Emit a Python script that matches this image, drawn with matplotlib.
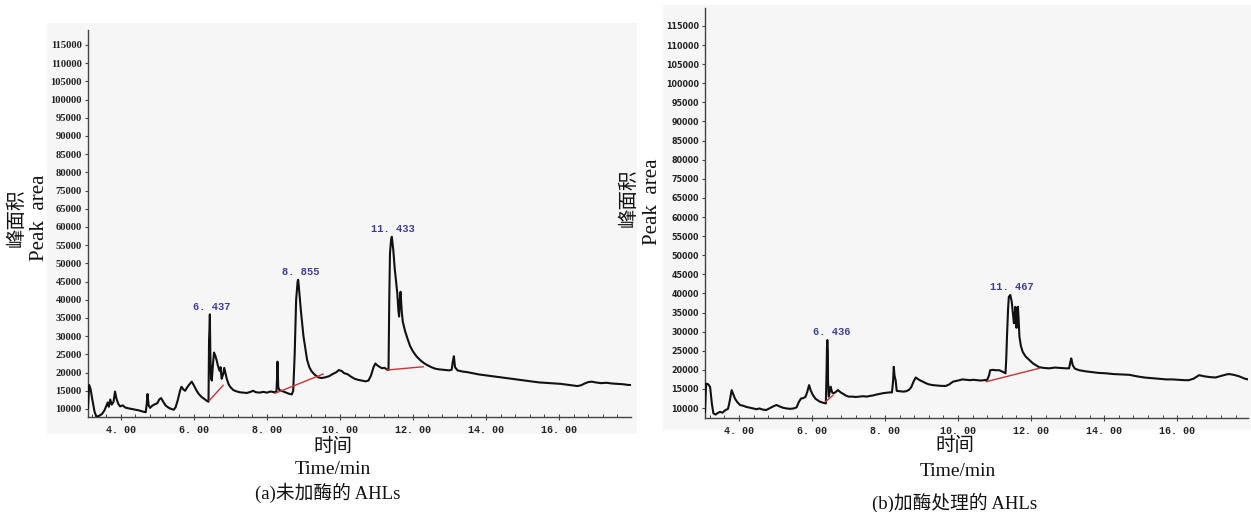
import matplotlib
matplotlib.use("Agg")
import matplotlib.pyplot as plt
from matplotlib.patches import Rectangle

# ---------------- data ----------------
# y tick labels as printed (the original skips 70000)
ytick_labels = ["10000", "15000", "20000", "25000", "30000", "35000", "40000",
                "45000", "50000", "55000", "60000", "65000", "75000", "80000",
                "85000", "90000", "95000", "100000", "105000", "110000", "115000"]
ytick_values = [10000 + 5000 * i for i in range(len(ytick_labels))]
xtick_values = [4, 6, 8, 10, 12, 14, 16]
xtick_labels = ["4. 00", "6. 00", "8. 00", "10. 00", "12. 00", "14. 00", "16. 00"]

# Panel (a): untreated AHLs
time_a = [3.10, 3.13, 3.17, 3.22, 3.28, 3.33, 3.40, 3.48, 3.55, 3.60, 3.64, 3.67, 3.71, 3.75,
          3.80, 3.84, 3.88, 3.93, 3.98, 4.05, 4.12, 4.20, 4.30, 4.40, 4.50, 4.60, 4.68, 4.71,
          4.73, 4.76, 4.80, 4.86, 4.93, 5.00, 5.05, 5.10, 5.16, 5.22, 5.30, 5.38, 5.45, 5.50,
          5.56, 5.62, 5.66, 5.71, 5.76, 5.82, 5.88, 5.94, 6.00, 6.06, 6.12, 6.20, 6.28, 6.36,
          6.40, 6.415, 6.43, 6.437, 6.45, 6.47, 6.49, 6.52, 6.55, 6.58, 6.62, 6.66, 6.70, 6.73,
          6.76, 6.80, 6.83, 6.86, 6.90, 6.95, 7.00, 7.08, 7.15, 7.25, 7.35, 7.45, 7.55, 7.62,
          7.70, 7.80, 7.90, 8.00, 8.10, 8.20, 8.26, 8.28, 8.29, 8.31, 8.34, 8.40, 8.50, 8.60,
          8.68, 8.72, 8.76, 8.80, 8.84, 8.855, 8.87, 8.90, 8.93, 8.96, 9.00, 9.05, 9.10, 9.16,
          9.22, 9.30, 9.40, 9.50, 9.60, 9.70, 9.80, 9.90, 9.97, 10.05, 10.12, 10.20, 10.30,
          10.40, 10.50, 10.60, 10.70, 10.78, 10.85, 10.92, 10.97, 11.02, 11.08, 11.15, 11.22,
          11.28, 11.33, 11.35, 11.37, 11.40, 11.42, 11.44, 11.46, 11.50, 11.54, 11.57, 11.60,
          11.62, 11.64, 11.66, 11.69, 11.72, 11.78, 11.85, 11.92, 12.00, 12.10, 12.20, 12.30,
          12.40, 12.50, 12.60, 12.70, 12.80, 12.90, 13.00, 13.06, 13.09, 13.12, 13.15, 13.22,
          13.35, 13.50, 13.65, 13.80, 13.95, 14.10, 14.25, 14.40, 14.55, 14.70, 14.85, 15.00,
          15.15, 15.30, 15.45, 15.60, 15.75, 15.90, 16.05, 16.20, 16.35, 16.50, 16.60, 16.70,
          16.80, 16.90, 17.00, 17.15, 17.30, 17.45, 17.60, 17.75, 17.90, 17.97]
area_a = [10200, 16600, 15500, 12500, 9200, 7900, 8100, 8600, 9600, 10800, 11800, 10600, 12600, 11200,
          12000, 14800, 12800, 11400, 10700, 11000, 10400, 10200, 10000, 9800, 9600, 9300, 9100, 11500,
          14100, 11000, 10300, 10900, 11300, 11600, 12600, 13000, 12000, 11000, 10400, 10000, 9800, 10500,
          12500, 15000, 16100, 15400, 15000, 16000, 16800, 17500, 16500, 15300, 14300, 13400, 12800, 12200,
          12000, 29000, 33000, 36000, 25000, 18500, 17800, 22000, 25500, 24800, 23500, 21800, 20500, 21500,
          18300, 19500, 21300, 20000, 18300, 16800, 16000, 15200, 14900, 14600, 14500, 14400, 14700, 15000,
          14600, 14500, 14700, 14500, 14800, 14600, 14800, 19000, 23000, 16000, 15200, 15000, 14600, 14200,
          14000, 15000, 25000, 40000, 45000, 45500, 44000, 40500, 37000, 34000, 30000, 26800, 23500, 21500,
          20400, 19500, 18700, 18500, 18700, 19000, 19600, 20100, 20700, 20400, 19800, 19600, 18900,
          18300, 18000, 17800, 17600, 17800, 19200, 21500, 22500, 22000, 21600, 21200, 21300,
          20900, 20700, 40000, 52800, 56500, 57300, 55500, 53700, 48500, 44500, 41800, 37000,
          35400, 40000, 42200, 37000, 34000, 31500, 29300, 27300, 25800, 24400, 23400, 22600,
          22000, 21500, 21100, 20900, 20800, 20700, 20600, 20800, 23000, 24500, 21500, 20600,
          20300, 20100, 19800, 19500, 19300, 19100, 18900, 18700, 18500, 18300, 18100, 17900,
          17700, 17500, 17300, 17200, 17100, 17000, 16900, 16700, 16500, 16300, 16500, 17000,
          17400, 17500, 17300, 17100, 17200, 17000, 16900, 16800, 16600, 16600]
baseline_a = [((6.42, 12300), (6.80, 16500)),
              ((8.22, 14300), (9.54, 19600)),
              ((11.28, 20700), (12.28, 21600))]
peaks_a = [(6.437, 36000, "6. 437"), (8.855, 45500, "8. 855"), (11.433, 57300, "11. 433")]

# Panel (b): enzyme-treated AHLs
time_b = [3.07, 3.10, 3.16, 3.21, 3.26, 3.30, 3.36, 3.42, 3.48, 3.55, 3.62, 3.70, 3.74, 3.80,
          3.85, 3.89, 3.95, 4.03, 4.12, 4.20, 4.30, 4.39, 4.48, 4.56, 4.65, 4.75, 4.85, 4.95,
          5.03, 5.12, 5.20, 5.30, 5.40, 5.50, 5.58, 5.64, 5.70, 5.76, 5.82, 5.87, 5.92, 5.97,
          6.03, 6.10, 6.21, 6.30, 6.38, 6.40, 6.41, 6.42, 6.435, 6.44, 6.46, 6.49, 6.51, 6.54,
          6.56, 6.60, 6.65, 6.71, 6.76, 6.80, 6.86, 6.92, 7.00, 7.10, 7.20, 7.30, 7.40, 7.50,
          7.60, 7.67, 7.75, 7.85, 7.95, 8.03, 8.12, 8.19, 8.22, 8.24, 8.26, 8.29, 8.32, 8.40,
          8.50, 8.58, 8.66, 8.72, 8.78, 8.84, 8.90, 8.97, 9.04, 9.12, 9.20, 9.31, 9.42, 9.55,
          9.67, 9.76, 9.86, 9.95, 10.05, 10.13, 10.22, 10.32, 10.42, 10.52, 10.62, 10.72, 10.80,
          10.85, 10.88, 10.95, 11.04, 11.13, 11.22, 11.30, 11.32, 11.34, 11.37, 11.39, 11.43,
          11.47, 11.50, 11.53, 11.55, 11.57, 11.60, 11.62, 11.64, 11.66, 11.68, 11.72, 11.77,
          11.85, 11.95, 12.05, 12.15, 12.22, 12.35, 12.50, 12.65, 12.80, 12.95, 13.04, 13.07,
          13.10, 13.14, 13.20, 13.32, 13.50, 13.68, 13.85, 14.05, 14.25, 14.45, 14.69, 14.90,
          15.10, 15.33, 15.55, 15.70, 15.87, 16.05, 16.20, 16.32, 16.45, 16.60, 16.75, 16.90,
          17.05, 17.20, 17.35, 17.42, 17.55, 17.70, 17.85, 17.94]
area_b = [9000, 16400, 16200, 15500, 11000, 8600, 8300, 8700, 9000, 8800, 9400, 9800, 11500, 14700,
          13500, 12500, 11600, 10800, 10600, 10300, 10100, 9900, 9700, 9900, 9600, 9500, 10000, 10500,
          10800, 10400, 10100, 9900, 9800, 9900, 10200, 11600, 12500, 12600, 12900, 14200, 16000, 14500,
          13300, 12400, 11700, 11400, 11200, 20000, 26000, 27800, 25000, 17000, 13000, 14500, 15600, 14500,
          14000, 13900, 14200, 14700, 14300, 14000, 13700, 13300, 13000, 13000, 12900, 13000, 13100, 13000,
          13200, 13300, 13500, 13700, 13900, 14000, 14100, 14100, 17000, 20800, 18500, 17300, 14500, 14400,
          14300, 14400, 14800, 15500, 16900, 18000, 17600, 17200, 16900, 16500, 16200, 16000, 15900, 15800,
          15800, 16200, 16900, 17100, 17300, 17500, 17400, 17300, 17400, 17300, 17200, 17300, 17400,
          18600, 19900, 20000, 19900, 19900, 19500, 19100, 23000, 28700, 36000, 39100, 39600,
          37800, 35000, 32200, 34000, 36500, 31000, 34000, 36500, 33000, 28700, 26300, 24700,
          23500, 22600, 21700, 21100, 20700, 20500, 20400, 20600, 20500, 20400, 20400, 21800,
          23000, 21200, 20300, 19900, 19600, 19400, 19200, 19100, 18900, 18800, 18700, 18300,
          18000, 17800, 17600, 17500, 17500, 17400, 17300, 17300, 17700, 18600, 18300, 18100,
          18000, 18400, 18800, 18900, 18700, 18300, 17700, 17500]
baseline_b = [((6.37, 11650), (6.58, 13400)),
              ((10.77, 16900), (12.22, 20400))]
peaks_b = [(6.436, 27800, "6. 436"), (11.467, 39600, "11. 467")]

# ---------------- figure ----------------
W, H = 1251, 512
fig = plt.figure(figsize=(W / 100, H / 100), dpi=100)
fig.patch.set_facecolor("white")

def px_rect(x0, y0, x1, y1):
    return [x0 / W, 1 - y1 / H, (x1 - x0) / W, (y1 - y0) / H]

# light gray panel backgrounds (drawn behind the axes)
for (x0, y0, x1, y1) in [(47, 23, 637, 434), (663, 5, 1251, 430)]:
    r = px_rect(x0, y0, x1, y1)
    fig.patches.append(Rectangle((r[0], r[1]), r[2], r[3], transform=fig.transFigure,
                                 facecolor="#f6f6f6", edgecolor="none", zorder=-10))

serif_cjk = ["Liberation Serif", "Noto Sans CJK SC"]
axis_col = "#444444"

def setup(ax, xlim, ylim, ylab_font, ylab_size, ylab_weight):
    ax.set_facecolor("none")
    ax.set_xlim(*xlim)
    ax.set_ylim(*ylim)
    for s in ["top", "right"]:
        ax.spines[s].set_visible(False)
    for s in ["left", "bottom"]:
        ax.spines[s].set_color(axis_col)
        ax.spines[s].set_linewidth(1.0)
    ax.set_yticks(ytick_values)
    ax.set_yticklabels(ytick_labels, fontsize=ylab_size, fontfamily=ylab_font,
                       fontweight=ylab_weight, color="#222222")
    ax.set_xticks(xtick_values)
    ax.set_xticklabels(xtick_labels, fontsize=7.2, fontfamily="Liberation Mono",
                       fontweight="bold", color="#222222")
    ax.set_xticks([x / 10 for x in range(32, 180, 4)], minor=True)
    ax.tick_params(axis="y", direction="out", length=2.5, width=0.8, color=axis_col, pad=2)
    ax.tick_params(axis="x", which="major", direction="inout", length=5, width=0.8,
                   color=axis_col, pad=3)
    ax.tick_params(axis="x", which="minor", direction="in", length=2.5, width=0.7,
                   color=axis_col)

def draw(ax, t, v, baselines, peaks, label_dx):
    ax.plot(t, v, color="#111111", lw=1.5, zorder=3)
    for (p0, p1) in baselines:
        ax.plot([p0[0], p1[0]], [p0[1], p1[1]], color="#cc3333", lw=1.0, zorder=4)
    for (pt, pv, lab), dx in zip(peaks, label_dx):
        ax.annotate(lab, xy=(pt, pv), xytext=(dx, 2), textcoords="offset points",
                    ha="center", va="bottom", fontsize=7.5, fontfamily="Liberation Mono",
                    fontweight="bold", color="#3b3b9e", zorder=5)

# panel (a)
ax1 = fig.add_axes(px_rect(88, 30, 631, 417))
setup(ax1, (3.10, 17.97), (7800, 114100), "Liberation Serif", 7.6, "bold")
draw(ax1, time_a, area_a, baseline_a, peaks_a, [1.5, 2.0, 0.7])

# panel (b)
ax2 = fig.add_axes(px_rect(705, 8, 1248, 418))
setup(ax2, (3.07, 17.94), (7400, 114700), "DejaVu Sans", 5.8, "bold")
draw(ax2, time_b, area_b, baseline_b, peaks_b, [2.5, 0.3])

def ftext(x, y, s, size, rot=0):
    fig.text(x / W, 1 - y / H, s, ha="center", va="center", rotation=rot,
             fontsize=size, family=serif_cjk, color="#111111")

# y-axis titles
ftext(16, 218, "峰面积", 14, 90)
ftext(40, 218, "Peak  area", 15, 90)
ftext(628, 198, "峰面积", 14, 90)
ftext(652, 202, "Peak  area", 15, 90)

# x-axis titles and captions
ftext(333, 447, "时间", 14)
ftext(333, 469, "Time/min", 14)
ftext(328, 493, "(a)未加酶的 AHLs", 13.5)
ftext(955, 446, "时间", 14)
ftext(958, 471, "Time/min", 14)
ftext(955, 503, "(b)加酶处理的 AHLs", 13.5)

fig.savefig("out.png", dpi=100, facecolor="white")
